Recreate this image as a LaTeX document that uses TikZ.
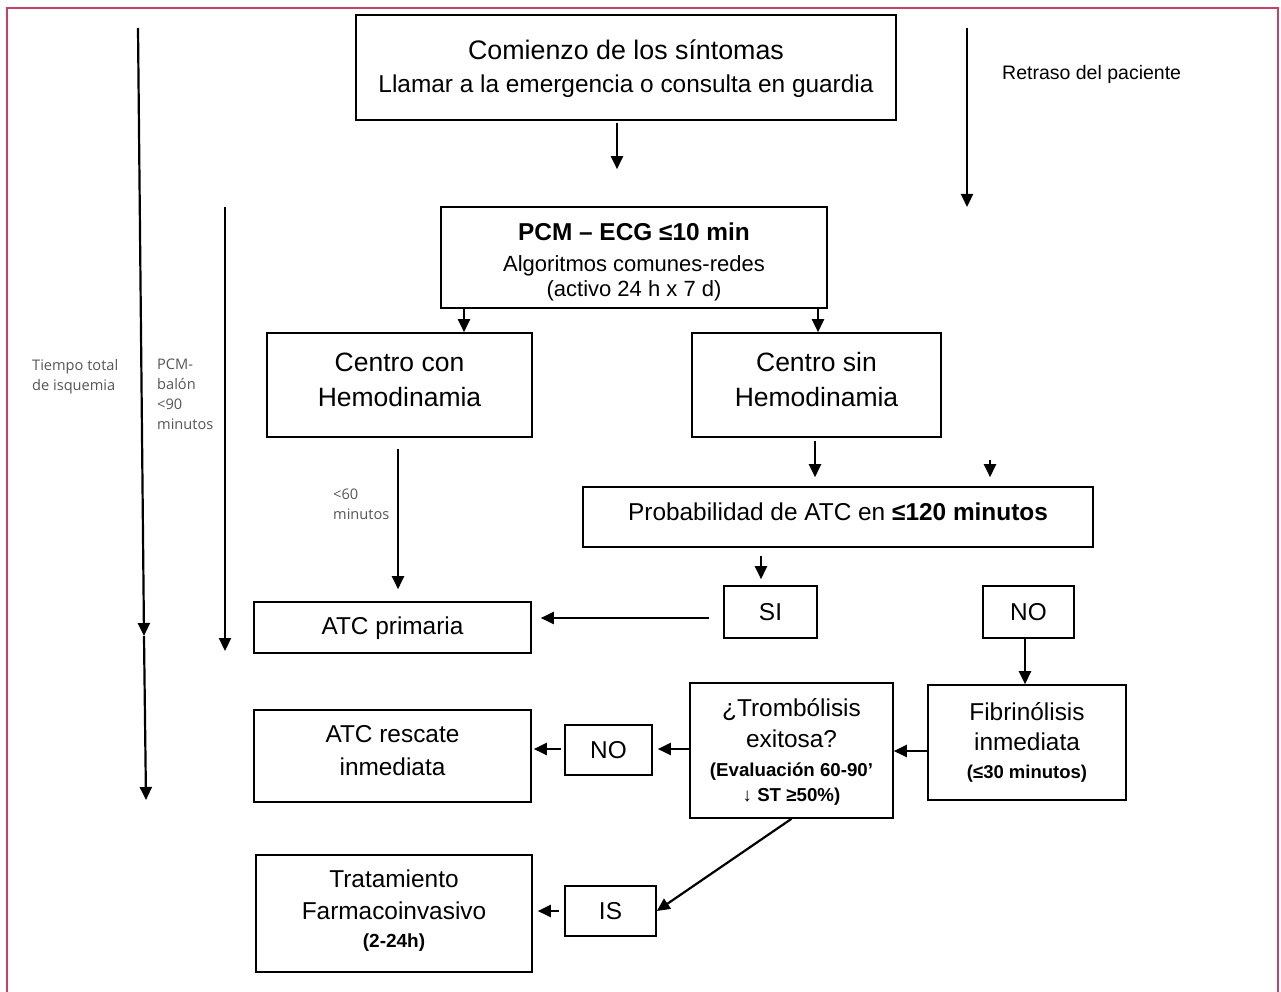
\documentclass[tikz,border=0pt]{standalone}
\usepackage{fontspec}
\setmainfont{Liberation Sans}
\newfontfamily\notefont{Open Sans}
\usetikzlibrary{arrows.meta}
\definecolor{framec}{RGB}{199,64,104}
\definecolor{notegray}{RGB}{85,85,85}
\newcommand{\fs}[2]{\fontsize{#1}{#2}\selectfont}

\begin{document}
\begin{tikzpicture}[x=1pt,y=-1pt,
  boxf/.style={draw=black, line width=1.6pt, rectangle, inner sep=0pt},
  btxt/.style={align=center, inner sep=0pt},
  arr/.style={line width=2.2pt, -{Triangle[length=13pt,width=12pt]}},
  note/.style={anchor=north west, align=left, text=notegray, inner sep=0pt,
               font=\notefont\fs{14.6}{20}},
]
\useasboundingbox (0,0) rectangle (1281,992);

% outer frame, open at the bottom
\draw[framec, line width=2.4pt] (7,995) -- (7,8) -- (1278,8) -- (1278,995);

% ---------- boxes ----------
\node[boxf, minimum width=540, minimum height=105] (start) at (626,67.5) {};
\node[btxt, font=\fs{24.4}{33}] (startt) at ([yshift=-1]start.center)
  {{\fs{26.8}{33}Comienzo de los síntomas}\\Llamar a la emergencia o consulta en guardia};

\node[boxf, minimum width=386, minimum height=101] (pcm) at (634,257.5) {};
\node[btxt, font=\fs{22}{25}] (pcmt) at ([yshift=-4.5]pcm.center)
  {{\fs{24.4}{25}\bfseries PCM – ECG ≤10 min}\\[6pt]Algoritmos comunes-redes\\(activo 24 h x 7 d)};

\node[boxf, minimum width=265, minimum height=104] (con) at (399.5,385) {};
\node[btxt, font=\fs{26.5}{35}] (cont) at ([yshift=5.5]con.center) {Centro con\\Hemodinamia};
\node[boxf, minimum width=249, minimum height=104] (sin) at (816.5,385) {};
\node[btxt, font=\fs{26.5}{35}] (sint) at ([yshift=5.5]sin.center) {Centro sin\\Hemodinamia};

\node[boxf, minimum width=510, minimum height=60] (prob) at (838,517) {};
\node[btxt, font=\fs{24.4}{30}] (probt) at ([yshift=5]prob.center)
  {Probabilidad de ATC en \textbf{≤120 minutos}};

\node[boxf, minimum width=93, minimum height=52] (si) at (770.5,612) {};
\node[btxt, font=\fs{24.4}{30}] (sit) at (si.center) {SI};
\node[boxf, minimum width=91, minimum height=52] (no1) at (1028.5,612) {};
\node[btxt, font=\fs{24.4}{30}] (no1t) at (no1.center) {NO};

\node[boxf, minimum width=277, minimum height=51] (prim) at (392.5,627.5) {};
\node[btxt, font=\fs{24.4}{30}] (primt) at ([yshift=-1]prim.center) {ATC primaria};

\node[boxf, minimum width=198, minimum height=115] (fib) at (1027,742.5) {};
\node[btxt, font=\fs{24.4}{30}] (fibt) at (fib.center)
  {Fibrinólisis\\inmediata\\[-2pt]{\fs{18.5}{24}\bfseries (≤30 minutos)}};

\node[boxf, minimum width=203, minimum height=135] (trom) at (791.5,750.5) {};
\node[btxt, font=\fs{24.4}{31}] (tromt) at ([yshift=-1]trom.center)
  {¿Trombólisis\\exitosa?\\[-2pt]{\fs{18.7}{25}\bfseries (Evaluación 60-90’}\\[-6pt]{\fs{18.7}{25}\bfseries ↓ ST ≥50\%)}};

\node[boxf, minimum width=87, minimum height=50] (no2) at (608.5,750) {};
\node[btxt, font=\fs{24.4}{30}] (no2t) at (no2.center) {NO};

\node[boxf, minimum width=277, minimum height=92] (resc) at (392.5,756) {};
\node[btxt, font=\fs{24.4}{33}] (resct) at ([yshift=5]resc.center) {ATC rescate\\inmediata};

\node[boxf, minimum width=91, minimum height=50] (is) at (610.5,911) {};
\node[btxt, font=\fs{24.4}{30}] (ist) at (is.center) {IS};

\node[boxf, minimum width=276, minimum height=117] (trat) at (394,913.5) {};
\node[btxt, font=\fs{24.4}{32}] (tratt) at ([yshift=3]trat.center)
  {Tratamiento\\Farmacoinvasivo\\[-4pt]{\fs{19}{22}\bfseries (2-24h)}};

% ---------- side labels ----------
\node[note] (ltot) at (32,359) {Tiempo total\\de isquemia};
\node[note] (lpcm) at (157,359) {PCM-\\balón\\<90\\minutos};
\node[note] (l60) at (333,489) {<60\\minutos};
\node[anchor=west, inner sep=0pt, font=\fs{19.5}{22}] (lret) at (1002,74) {Retraso del paciente};

% ---------- reference columns and rows ----------
\coordinate (xa) at (464,0);
\coordinate (xb) at (818,0);
\coordinate (xc) at (398,0);
\coordinate (xd) at (815,0);
\coordinate (xe) at (761,0);
\coordinate (xf) at (1025,0);
\coordinate (xg) at (617,0);
\coordinate (ya) at (0,618);
\coordinate (yb) at (0,749);
\coordinate (yc) at (0,751);
\coordinate (yd) at (0,911);

% time axes
\coordinate (tt0) at (138,28);
\coordinate (tt1) at (144,636);
\coordinate (tt2) at (146,800);
\coordinate (pb0) at (225,207);
\coordinate (pb1) at (225,651);
\coordinate (pd0) at (967,28);
\coordinate (pd1) at (967,207);
\coordinate (f0) at (990,460);

\draw[arr] (tt0) -- (tt1);
\draw[arr] (tt1) -- (tt2);
\draw[arr] (pb0) -- (pb1);
\draw[arr] (pd0) -- (pd1);

% ---------- connectors ----------
\draw[arr, shorten <=2, shorten >=37] (start.south -| xg) -- (pcm.north -| xg);
\draw[arr] (pcm.south -| xa) -- (con.north -| xa);
\draw[arr] (pcm.south -| xb) -- (sin.north -| xb);
\draw[arr, shorten <=11, shorten >=12] (con.south -| xc) -- (prim.north -| xc);
\draw[arr, shorten <=3, shorten >=9] (sin.south -| xd) -- (prob.north -| xd);
\draw[arr, shorten >=9] (f0) -- (prob.north -| f0);
\draw[arr, shorten <=8, shorten >=6] (prob.south -| xe) -- (si.north -| xe);
\draw[arr, shorten <=14, shorten >=9] (si.west |- ya) -- (prim.east |- ya);
\draw[arr] (no1.south -| xf) -- (fib.north -| xf);
\draw[arr] (fib.west |- yc) -- (trom.east |- yc);
\draw[arr, shorten >=5] (trom.west |- yb) -- (no2.east |- yb);
\draw[arr, shorten <=3, shorten >=2] (no2.west |- yb) -- (resc.east |- yb);
\draw[arr] (trom.south) -- (is.east);
\draw[arr, shorten <=5, shorten >=5] (is.west |- yd) -- (trat.east |- yd);

\end{tikzpicture}
\end{document}
